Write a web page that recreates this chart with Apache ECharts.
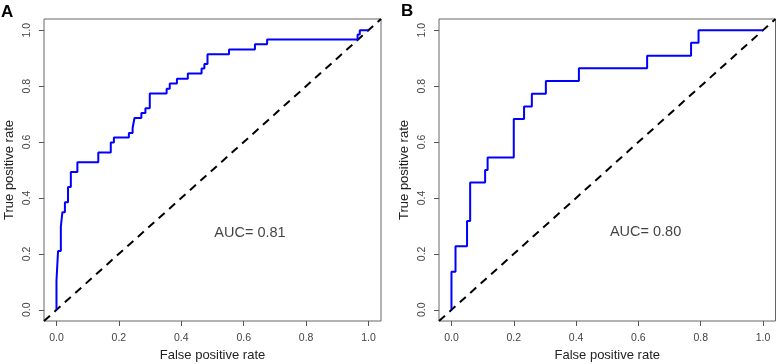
<!DOCTYPE html>
<html><head><meta charset="utf-8">
<script src="https://cdn.jsdelivr.net/npm/echarts@6/dist/echarts.min.js"></script>
<style>html,body{margin:0;padding:0;background:#fff}#c{width:777px;height:364px}</style>
</head><body><div id="c"></div>
<script>
const fprA = [0, 0.005, 0.014, 0.019, 0.027, 0.037, 0.046, 0.067, 0.134, 0.174, 0.184, 0.232, 0.244, 0.25, 0.272, 0.285, 0.299, 0.353, 0.363, 0.386, 0.421, 0.465, 0.474, 0.484, 0.553, 0.636, 0.675, 0.965, 0.972, 1.0];
const tprA = [0, 0.105, 0.21, 0.298, 0.349, 0.385, 0.439, 0.493, 0.528, 0.563, 0.598, 0.616, 0.632, 0.650, 0.686, 0.704, 0.721, 0.774, 0.791, 0.809, 0.826, 0.845, 0.863, 0.879, 0.914, 0.931, 0.95, 0.967, 0.985, 1.0];
const fprB = [0, 0.013, 0.05, 0.06, 0.108, 0.116, 0.2, 0.233, 0.258, 0.303, 0.409, 0.628, 0.769, 0.793, 1.0];
const tprB = [0, 0.136, 0.227, 0.318, 0.455, 0.5, 0.545, 0.682, 0.727, 0.773, 0.818, 0.864, 0.909, 0.955, 1.0];
const diagonal = [-0.04, 1.04];
const tickValues = [0, 0.2, 0.4, 0.6, 0.8, 1.0];
const aucA = 'AUC= 0.81', aucB = 'AUC= 0.80';
const aucPosA = [0.62, 0.274], aucPosB = [0.623, 0.28];
const panelLabels = ['A', 'B'];
const xTitle = 'False positive rate', yTitle = 'True positive rate';

const FONT = "'Liberation Sans', Arial, sans-serif";
function xAx(i) {
  return {
    gridIndex: i, type: 'value', min: -0.04, max: 1.04, position: 'bottom',
    name: xTitle, nameLocation: 'middle', nameGap: 28,
    nameTextStyle: {fontFamily: FONT, fontSize: 13, color: '#222'},
    axisLine: {show: false, onZero: false},
    axisTick: {show: true, inside: false, length: 5, customValues: tickValues, lineStyle: {color: '#555'}},
    axisLabel: {customValues: tickValues, margin: 12, fontFamily: FONT, fontSize: 10.5, color: '#444', formatter: v => v.toFixed(1)},
    splitLine: {show: false}
  };
}
function yAx(i) {
  return {
    gridIndex: i, type: 'value', min: -0.04, max: 1.04, position: 'left',
    name: yTitle, nameLocation: 'middle', nameGap: 28, nameRotate: 90,
    nameTextStyle: {fontFamily: FONT, fontSize: 13, color: '#222'},
    axisLine: {show: false, onZero: false},
    axisTick: {show: true, inside: false, length: 5, customValues: tickValues, lineStyle: {color: '#555'}},
    axisLabel: {customValues: tickValues, rotate: 90, margin: 11, fontFamily: FONT, fontSize: 10.5, color: '#444', formatter: v => v.toFixed(1)},
    splitLine: {show: false}
  };
}
function rocSeries(i, fpr, tpr) {
  return {type: 'line', xAxisIndex: i, yAxisIndex: i, step: 'start', symbol: 'none', z: 3,
    lineStyle: {color: '#0000ff', width: 2}, data: fpr.map((x, k) => [x, tpr[k]])};
}
function diagSeries(i) {
  return {type: 'line', xAxisIndex: i, yAxisIndex: i, symbol: 'none', z: 2,
    lineStyle: {color: '#000', width: 2, type: [8, 6]}, data: diagonal.map(v => [v, v])};
}
function aucSeries(i, pos, txt) {
  return {type: 'scatter', xAxisIndex: i, yAxisIndex: i, symbolSize: 0, data: [pos],
    label: {show: true, position: 'inside', formatter: txt, fontFamily: FONT, fontSize: 14.5, color: '#111'}};
}
const chart = echarts.init(document.getElementById('c'), null, {renderer: 'canvas'});
chart.setOption({
  animation: false,
  backgroundColor: '#fff',
  grid: [
    {left: 44, right: 396, top: 19, bottom: 43, outerBoundsMode: 'none', containLabel: false, show: true, borderColor: '#666', borderWidth: 1, backgroundColor: 'transparent'},
    {left: 439, right: 1.5, top: 19, bottom: 43, outerBoundsMode: 'none', containLabel: false, show: true, borderColor: '#666', borderWidth: 1, backgroundColor: 'transparent'}
  ],
  xAxis: [xAx(0), xAx(1)],
  yAxis: [yAx(0), yAx(1)],
  series: [diagSeries(0), rocSeries(0, fprA, tprA), aucSeries(0, aucPosA, aucA),
           diagSeries(1), rocSeries(1, fprB, tprB), aucSeries(1, aucPosB, aucB)],
  graphic: [
    {type: 'text', left: 1, top: 4, style: {text: panelLabels[0], font: "bold 17px 'Liberation Sans', Arial", fill: '#000'}},
    {type: 'text', left: 401, top: 3, style: {text: panelLabels[1], font: "bold 17px 'Liberation Sans', Arial", fill: '#000'}}
  ]
});
</script></body></html>
